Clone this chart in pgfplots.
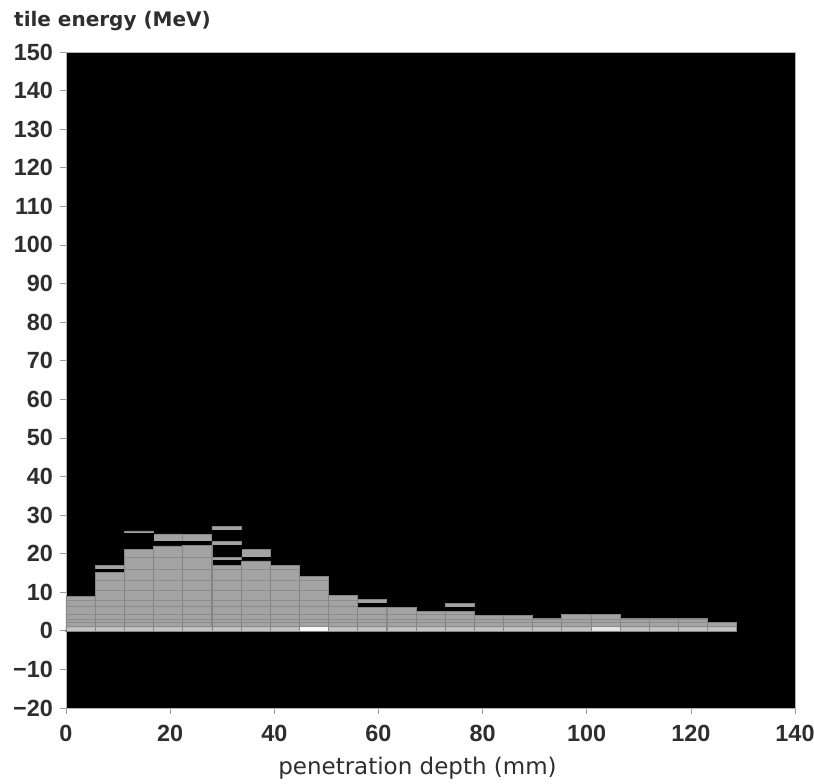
\documentclass[border=0pt]{standalone}
\usepackage{pgfplots}
\pgfplotsset{compat=1.18}
\usepackage{pgfplotstable}
\usepackage{fontspec}
\setmainfont{Liberation Sans}
\newfontfamily\djv{DejaVu Sans}
\definecolor{txt}{HTML}{2E2E2E}
\definecolor{barfill}{HTML}{A3A3A3}
\definecolor{barline}{HTML}{858585}
\definecolor{divline}{HTML}{8C8C8C}
\definecolor{stripc}{HTML}{C4C4C4}
\definecolor{tickc}{HTML}{9A9A9A}

% x = left edge of the depth bin; g/b = stacked tile layers (gray / gap), T = main top, l* = tile boundaries, s = bottom strip
\pgfplotstableread{
x     g1   b1   g2   b2   g3   b3   g4   T    la  lb  lc  ld  le  lf  lg   lh   li   lj   s
0.0   9.0  0    0    0    0    0    0    9.0  1.2 2.2 3.0 4.4 6.4 8.0 9.0  9.0  9.0  9.0  0.9
5.6   16.9 16.0 15.2 0    0    0    0    15.2 1.2 2.2 3.0 4.4 6.4 8.0 10.5 13.0 15.2 15.2 0.9
11.2  25.9 25.3 21.1 0    0    0    0    21.1 1.2 2.2 3.0 4.4 6.4 8.0 10.5 13.0 16.0 19.0 0.9
16.8  25.1 23.1 22.0 0    0    0    0    22.0 1.2 2.2 3.0 4.4 6.4 8.0 10.5 13.0 16.0 19.0 0.9
22.4  25.0 23.1 22.2 0    0    0    0    22.2 1.2 2.2 3.0 4.4 6.4 8.0 10.5 13.0 16.0 19.0 0.9
28.0  27.0 26.0 23.1 22.1 19.0 18.2 17.0 17.0 1.2 2.2 3.0 4.4 6.4 8.0 10.5 13.0 16.0 17.0 0.9
33.6  21.1 19.0 18.1 0    0    0    0    18.1 1.2 2.2 3.0 4.4 6.4 8.0 10.5 13.0 16.0 18.1 0.9
39.2  17.0 0    0    0    0    0    0    17.0 1.2 2.2 3.0 4.4 6.4 8.0 10.5 13.0 16.0 17.0 0.9
44.8  14.2 0    0    0    0    0    0    14.2 1.2 2.2 3.0 4.4 6.4 8.0 10.5 13.0 14.2 14.2 0.9
50.4  9.1  0    0    0    0    0    0    9.1  1.2 2.2 3.0 4.4 6.4 8.0 9.1  9.1  9.1  9.1  0.9
56.0  8.2  7.1  6.1  0    0    0    0    6.1  1.2 2.2 3.0 4.4 6.1 6.1 6.1  6.1  6.1  6.1  0.9
61.6  6.1  0    0    0    0    0    0    6.1  1.2 2.2 3.0 4.4 6.1 6.1 6.1  6.1  6.1  6.1  0.9
67.2  5.0  0    0    0    0    0    0    5.0  1.2 2.2 3.0 4.4 5.0 5.0 5.0  5.0  5.0  5.0  0.9
72.8  7.1  6.1  5.0  0    0    0    0    5.0  1.2 2.2 3.0 4.4 5.0 5.0 5.0  5.0  5.0  5.0  0.9
78.4  4.1  0    0    0    0    0    0    4.1  1.2 2.2 3.0 4.1 4.1 4.1 4.1  4.1  4.1  4.1  0.9
84.0  4.1  0    0    0    0    0    0    4.1  1.2 2.2 3.0 4.1 4.1 4.1 4.1  4.1  4.1  4.1  0.9
89.6  3.2  0    0    0    0    0    0    3.2  1.2 2.2 3.0 3.2 3.2 3.2 3.2  3.2  3.2  3.2  0.9
95.2  4.3  0    0    0    0    0    0    4.3  1.2 2.2 3.0 4.3 4.3 4.3 4.3  4.3  4.3  4.3  0.9
100.8 4.3  0    0    0    0    0    0    4.3  1.2 2.2 3.0 4.3 4.3 4.3 4.3  4.3  4.3  4.3  0.9
106.4 3.2  0    0    0    0    0    0    3.2  1.2 2.2 3.0 3.2 3.2 3.2 3.2  3.2  3.2  3.2  0.9
112.0 3.2  0    0    0    0    0    0    3.2  1.2 2.2 3.0 3.2 3.2 3.2 3.2  3.2  3.2  3.2  0.9
117.6 3.2  0    0    0    0    0    0    3.2  1.2 2.2 3.0 3.2 3.2 3.2 3.2  3.2  3.2  3.2  0.9
123.2 2.2  0    0    0    0    0    0    2.2  1.2 2.2 2.2 2.2 2.2 2.2 2.2  2.2  2.2  2.2  0.9
128.8 0    0    0    0    0    0    0    0    0   0   0   0   0   0   0    0    0    0    0
}\tiles

\begin{document}
\begin{tikzpicture}
\path[use as bounding box] (-66bp,-76bp) rectangle (748bp,708bp);
\begin{axis}[
  at={(0,0)}, anchor=south west,
  scale only axis, width=729bp, height=656bp,
  xmin=0, xmax=140, ymin=-20, ymax=150,
  axis background/.style={fill=black},
  axis line style={draw=gray!60, line width=0.5bp},
  xtick={0,20,40,60,80,100,120,140},
  xticklabels={0,20,40,60,80,100,120,140},
  ytick={-20,-10,0,10,20,30,40,50,60,70,80,90,100,110,120,130,140,150},
  yticklabels={−20,−10,0,10,20,30,40,50,60,70,80,90,100,110,120,130,140,150},
  tick align=outside, xtick pos=bottom, ytick pos=left,
  major tick length=6bp,
  tick style={draw=tickc, line width=0.7bp},
  tick label style={font=\fontsize{23.4bp}{24bp}\selectfont\bfseries, text=txt, inner sep=0pt},
  yticklabel style={anchor=east, xshift=-7bp},
  xticklabel style={anchor=north, yshift=-11bp},
  xlabel={penetration depth (mm)},
  ylabel={tile energy (MeV)},
  every axis x label/.style={at={(axis description cs:0.48217,-0.10213)}, anchor=base,
     font=\fontsize{23bp}{25bp}\djv, text=txt, inner sep=0pt},
  every axis y label/.style={at={(axis description cs:-0.07133,1.03811)}, anchor=base west,
     font=\fontsize{20bp}{22bp}\djv\bfseries, text=txt, inner sep=0pt},
]
% stacked tile layers, drawn top-down
\addplot[ybar interval, fill=barfill, draw=barline, line width=0.6bp] table[x=x,y=g1]{\tiles};
\addplot[ybar interval, fill=black, draw=black, line width=0.6bp] table[x=x,y=b1]{\tiles};
\addplot[ybar interval, fill=barfill, draw=barline, line width=0.6bp] table[x=x,y=g2]{\tiles};
\addplot[ybar interval, fill=black, draw=black, line width=0.6bp] table[x=x,y=b2]{\tiles};
\addplot[ybar interval, fill=barfill, draw=barline, line width=0.6bp] table[x=x,y=g3]{\tiles};
\addplot[ybar interval, fill=black, draw=black, line width=0.6bp] table[x=x,y=b3]{\tiles};
\addplot[ybar interval, fill=barfill, draw=barline, line width=0.6bp] table[x=x,y=g4]{\tiles};
% bottom light strip
\addplot[ybar interval, fill=stripc, draw=none] table[x=x,y=s]{\tiles};
\addplot[ybar interval, fill=white!95!gray, draw=none] coordinates {(44.8,0.9) (50.4,0)};
\addplot[ybar interval, fill=white!80!gray, draw=none] coordinates {(100.8,0.9) (106.4,0)};
% tile boundaries
\addplot[ybar interval, fill=none, draw=divline, line width=0.5bp] table[x=x,y=la]{\tiles};
\addplot[ybar interval, fill=none, draw=divline, line width=0.5bp] table[x=x,y=lb]{\tiles};
\addplot[ybar interval, fill=none, draw=divline, line width=0.5bp] table[x=x,y=lc]{\tiles};
\addplot[ybar interval, fill=none, draw=divline, line width=0.5bp] table[x=x,y=ld]{\tiles};
\addplot[ybar interval, fill=none, draw=divline, line width=0.5bp] table[x=x,y=le]{\tiles};
\addplot[ybar interval, fill=none, draw=divline, line width=0.5bp] table[x=x,y=lf]{\tiles};
\addplot[ybar interval, fill=none, draw=divline, line width=0.5bp] table[x=x,y=lg]{\tiles};
\addplot[ybar interval, fill=none, draw=divline, line width=0.5bp] table[x=x,y=lh]{\tiles};
\addplot[ybar interval, fill=none, draw=divline, line width=0.5bp] table[x=x,y=li]{\tiles};
\addplot[ybar interval, fill=none, draw=divline, line width=0.5bp] table[x=x,y=lj]{\tiles};
\addplot[ybar interval, fill=none, draw=barline, line width=0.6bp] table[x=x,y=T]{\tiles};
\end{axis}
\end{tikzpicture}
\end{document}
